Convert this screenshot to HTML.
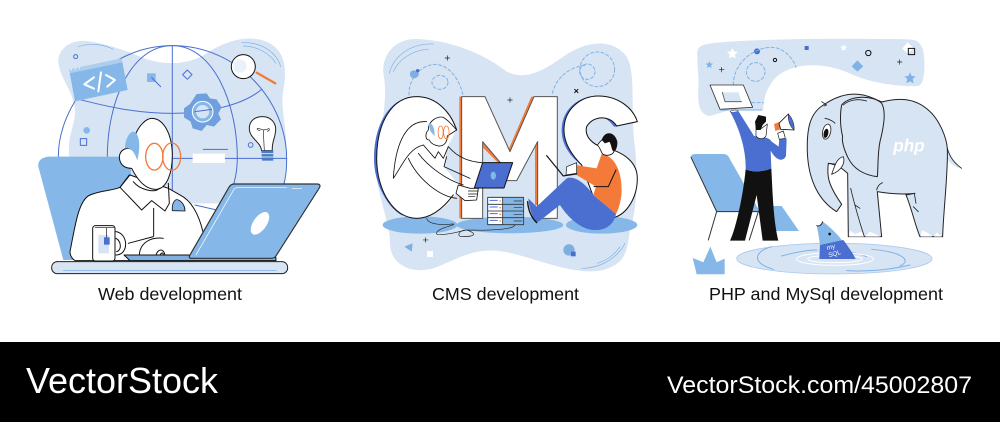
<!DOCTYPE html>
<html><head><meta charset="utf-8"><style>
html,body{margin:0;padding:0;background:#fff;width:1000px;height:422px;overflow:hidden}
svg{display:block}
text{font-family:"Liberation Sans",sans-serif}
</style></head><body>
<svg width="1000" height="422" viewBox="0 0 1000 422" xmlns="http://www.w3.org/2000/svg">
<rect width="1000" height="422" fill="#fff"/>
<!-- Panel 1 -->
<g transform="translate(30,30) scale(.3333)" fill="none" stroke-linejoin="round" stroke-linecap="round">
<path fill="#d7e4f3" d="M85 90C90 45 135 25 185 35C235 45 285 60 330 80C385 105 470 110 530 70C590 30 665 10 720 40C770 70 770 125 760 180C750 230 772 300 770 380L765 470L590 520L120 520L118 380C108 310 150 265 130 215C120 170 85 135 85 90Z"/>
<g stroke="#4a6fd0" stroke-width="3">
<path d="M85 380C85 220 230 47 427 47C630 47 770 220 770 385C770 420 768 440 760 470"/>
<path d="M232 380C232 220 300 47 427 47C550 47 622 220 622 385C622 430 610 480 585 530"/>
<path d="M427 47V480"/>
<path d="M430 385H770"/>
<path d="M135 205C230 230 320 250 427 250C530 250 640 225 695 178"/>
<path d="M495 525L560 540"/>
</g>
<path stroke="#7fb2e6" stroke-width="2" d="M145 50C180 38 220 42 250 58M635 38C690 35 740 65 752 110M640 48C680 48 720 70 738 100"/>
<circle cx="137" cy="80" r="6" stroke="#4a6fd0" stroke-width="3"/>
<!-- code window -->
<path fill="#85b8e8" d="M117 118L275 85L293 180L135 214Z"/>
<path fill="#d7e4f3" d="M117 118L275 85L277 97L119 130Z" opacity=".5"/>
<g stroke="#fff" stroke-width="6"><path d="M192 142L163 163L192 176M205 184L213 127M228 135L255 150L232 170"/></g>
<circle cx="124" cy="119" r="2" fill="#fff"/><circle cx="136" cy="117" r="2" fill="#fff"/><circle cx="148" cy="114" r="2" fill="#fff"/>
<!-- small icons -->
<rect x="351" y="130" width="26" height="26" fill="#85b8e8"/>
<path stroke="#4a6fd0" stroke-width="3" d="M365 143L392 170"/>
<path stroke="#4a6fd0" stroke-width="3" fill="#d7e4f3" d="M472 120L486 134L472 148L458 134Z"/>
<circle cx="170" cy="301" r="10" fill="#85b8e8"/>
<rect x="151" y="326" width="19" height="20" stroke="#4a6fd0" stroke-width="3"/>
<circle cx="662" cy="345" r="7" stroke="#4a6fd0" stroke-width="3"/>
<!-- gear -->
<path fill="#6f9fdf" d="M500 192L530 190L540 205L560 208L575 232L565 250L573 268L552 290L530 285L515 303L488 295L482 275L462 262L462 235L480 222Z"/>
<circle cx="518" cy="245" r="31" fill="#85b8e8" stroke="#fff" stroke-width="3"/>
<circle cx="518" cy="245" r="20" fill="#d7e4f3"/>
<path stroke="#4a6fd0" stroke-width="3" d="M495 245L545 238"/>
<!-- magnifier -->
<path stroke="#f47a3a" stroke-width="7" d="M680 128L736 160"/>
<circle cx="640" cy="110" r="36" fill="#fff" stroke="#111" stroke-width="3"/>
<circle cx="630" cy="108" r="20" fill="#eaf1f9"/>
<!-- bulb -->
<path fill="#fff" stroke="#222" stroke-width="3" d="M695 362C692 335 658 325 658 295C658 272 675 260 698 260C722 260 738 278 737 300C736 325 725 335 727 362Z"/>
<path stroke="#222" stroke-width="2" d="M703 362L700 302M690 302C678 300 680 292 688 296L700 300L712 298C718 292 722 300 712 304"/>
<path fill="#4a7bc8" d="M694 362H730V392H696Z"/>
<path stroke="#d7e4f3" stroke-width="3" d="M694 371H730M694 381H730"/>
<path stroke="#4a6fd0" stroke-width="3" d="M520 358H593"/>
<rect x="488" y="371" width="97" height="28" fill="#fff"/>
<!-- chair -->
<path fill="#85b8e8" d="M25 410C22 390 40 380 60 380H300L320 690H100Z"/>
<!-- person -->
<path fill="#fff" stroke="#111" stroke-width="3" d="M120 665C135 590 145 510 180 495C215 480 250 482 270 472L300 435L400 470L415 475L450 495C480 510 505 545 520 610L500 692H135C125 685 120 675 120 665Z"/>
<path fill="#fff" stroke="#111" stroke-width="3" d="M312 325C325 285 350 265 365 265C400 265 425 310 427 370C428 430 410 475 380 478C345 480 320 445 305 415C280 415 268 400 268 380C270 360 290 350 305 358C302 345 308 335 312 325Z"/>
<path fill="#85b8e8" d="M285 355C285 325 300 305 310 305C330 310 332 350 322 392C315 370 305 352 285 355Z"/>
<path stroke="#111" stroke-width="3" d="M310 455C330 480 375 490 388 475"/>
<path stroke="#111" stroke-width="3" d="M270 472L298 435M270 472L335 540L365 512L405 543L418 520L415 460"/>
<path fill="#85b8e8" stroke="#111" stroke-width="2.5" d="M427 542C425 520 435 505 445 510C458 515 465 530 465 543Z"/>
<path stroke="#111" stroke-width="3" d="M371 535V618M295 640L370 620"/>
<g stroke="#f47a3a" stroke-width="4"><ellipse cx="373" cy="380" rx="26" ry="40"/><ellipse cx="425" cy="380" rx="27" ry="41"/></g>
<!-- mug -->
<path stroke="#111" stroke-width="3" d="M258 605C295 610 298 675 258 675M258 625C275 635 275 660 260 665"/>
<rect x="188" y="587" width="67" height="106" rx="8" fill="#fff" stroke="#111" stroke-width="3"/>
<rect x="205" y="615" width="32" height="55" fill="#d7e4f3"/>
<rect x="222" y="622" width="17" height="22" fill="#4a6fd0"/>
<path stroke="#111" stroke-width="2" d="M195 593H252M230 593V622"/>
<!-- hand -->
<path fill="#fff" stroke="#111" stroke-width="3" d="M328 675C330 640 360 620 400 625"/>
<path stroke="#111" stroke-width="3" d="M378 675C385 655 400 655 405 675M390 675C395 666 400 668 400 675"/>
<!-- laptop -->
<path fill="#7faee0" stroke="#111" stroke-width="3" d="M282 675H480L738 683V692H300Z"/>
<path fill="#85b8e8" stroke="#333" stroke-width="3.5" d="M598 470C602 464 606 462 614 462H862C870 462 872 468 868 474L738 678C734 684 730 685 722 685H484C478 685 476 680 480 675Z"/>
<path stroke="#fff" stroke-width="2" d="M498 675L612 478C614 474 618 473 624 473H770M786 475H815"/>
<ellipse cx="690" cy="580" rx="20" ry="39" fill="#fff" transform="rotate(35 690 580)"/>
<rect x="65" y="695" width="708" height="36" rx="17" fill="#d7e4f3" stroke="#222" stroke-width="3"/>
<path stroke="#7fb2e6" stroke-width="2" d="M100 722H740"/>
</g>

<!-- Panel 2 -->
<g transform="translate(360,30) scale(.3333)" fill="none" stroke-linejoin="round" stroke-linecap="round">
<path fill="#d7e4f3" d="M70 130C65 70 110 25 170 27C270 30 370 70 440 125C490 150 540 130 610 80C680 30 760 25 800 80C830 130 810 260 825 350C835 450 830 540 810 600C800 680 790 700 730 720C640 740 520 680 430 665C340 650 290 690 220 715C150 735 90 700 90 640C92 590 60 520 50 440C45 340 90 230 70 130Z"/>
<path stroke="#7fb2e6" stroke-width="2" d="M88 130C100 80 150 40 220 42M100 125C115 90 155 60 205 58M795 640C775 680 725 715 665 715M780 650C760 680 735 692 712 700"/>
<g stroke="#7fb2e6" stroke-width="3" stroke-dasharray="9 7"><path d="M147 195C145 150 180 105 225 103C270 105 300 150 310 200"/><ellipse cx="240" cy="157" rx="24" ry="21"/><path d="M577 190C590 140 630 110 680 105"/><circle cx="712" cy="118" r="52"/><circle cx="682" cy="125" r="23"/></g>
<path fill="#7faee0" d="M150 132C150 120 165 118 175 125C180 135 172 145 162 145C155 145 150 140 150 132Z"/>
<circle cx="173" cy="122" r="5" fill="#4a6fd0"/>
<path stroke="#222" stroke-width="2" d="M262 77V91M255 84H269M450 203V217M443 210H457M197 623V637M190 630H204"/>
<path stroke="#111" stroke-width="3" d="M644 178L654 188M654 178L644 188"/>
<!-- floor -->
<ellipse cx="180" cy="585" rx="112" ry="26" fill="#85b8e8"/>
<ellipse cx="450" cy="585" rx="160" ry="25" fill="#85b8e8"/>
<ellipse cx="725" cy="585" rx="107" ry="26" fill="#85b8e8"/>
<path fill="#7faee0" d="M133 650L158 640L155 665Z"/>
<rect x="201" y="663" width="18" height="18" fill="#fff"/>
<circle cx="627" cy="660" r="17" fill="#7faee0"/>
<rect x="633" y="665" width="14" height="14" fill="#4a6fd0"/>
<!-- M -->
<path fill="#f47a3a" d="M298 200H306V565H298Z"/>
<path fill="#f47a3a" d="M366 335L422 395L416 400L366 350Z"/>
<path fill="#f47a3a" d="M514 200H524L452 372L445 360Z"/>
<path fill="#f47a3a" d="M525 340H534V525H525Z"/>
<path fill="#fff" stroke="#555" stroke-width="3" d="M305 200H375L450 365L522 200H592V565H533V335L470 452H440V420L368 335V565H305Z"/>
<!-- C -->
<path fill="#4a6fd0" d="M150 202C90 210 42 280 42 385C42 470 90 540 130 558C85 520 50 460 50 385C50 290 95 215 150 202Z"/>
<path fill="#fff" d="M290 300C270 240 225 200 170 200C95 200 50 280 50 385C50 480 100 565 170 565C215 565 255 535 285 495L300 470L252 410L262 350Z"/>
<path stroke="#111" stroke-width="3" d="M290 300C270 240 225 200 170 200C95 200 50 280 50 385C50 480 100 565 170 565C215 565 250 535 280 495"/>
<path stroke="#111" stroke-width="2.5" d="M100 445C105 360 130 270 200 275M100 445C125 410 145 355 190 345M145 385C175 450 240 500 290 505M175 370C205 410 260 450 310 465"/>
<!-- woman -->
<path fill="#fff" stroke="#111" stroke-width="2.5" d="M205 300C205 270 235 258 250 262C268 272 280 290 290 300L262 318C262 338 250 350 235 348C220 345 212 340 208 330C195 330 195 310 205 300Z"/>
<path fill="#85b8e8" d="M205 282C215 276 224 290 224 318L212 305Z"/>
<path stroke="#f47a3a" stroke-width="2.5" d="M242 288c-10 0-10 38 0 38s10-38 0-38ZM259 288c-11 0-11 38 0 38s11-38 0-38Z"/>
<path stroke="#111" stroke-width="2.5" d="M190 345L225 385L235 365L250 385L265 350C295 385 330 395 365 398M260 380L252 410L330 445"/>
<path fill="#fff" stroke="#111" stroke-width="2.5" d="M295 465L330 475L355 475L350 510L315 512L288 490Z"/>
<path stroke="#111" stroke-width="2" d="M325 483H355M325 492H352M325 500H345"/>
<path fill="#4a6fd0" stroke="#111" stroke-width="3" d="M368 398H458L432 474H343Z"/>
<ellipse cx="400" cy="437" rx="8" ry="12" fill="#85b8e8"/>
<!-- cable -->
<path stroke="#222" stroke-width="2" d="M200 565C205 585 250 585 280 582C290 585 225 595 230 612C240 618 280 610 320 600C350 610 350 620 305 620C290 620 295 600 320 600C380 602 460 600 465 585"/>
<!-- server -->
<rect x="383" y="502" width="108" height="82" fill="#85b8e8" stroke="#333" stroke-width="2.5"/>
<rect x="385" y="504" width="43" height="18" fill="#fff"/><rect x="385" y="524" width="43" height="18" fill="#fff"/><rect x="385" y="544" width="43" height="18" fill="#fff"/><rect x="385" y="564" width="43" height="18" fill="#fff"/>
<path stroke="#333" stroke-width="2.5" d="M383 523H491M383 543H491M383 563H491M428 502V584"/>
<path stroke="#4a6fd0" stroke-width="3" d="M390 511H412M390 531H412M390 551H412M390 571H412"/>
<path stroke="#f47a3a" stroke-width="4" d="M420 513h1M420 533h1M420 553h1M420 573h1"/>
<path stroke="#333" stroke-width="2" d="M462 513H486M462 533H486M462 553H486M462 573H486"/>
<!-- S -->
<path fill="#4a6fd0" d="M605 300C605 235 660 200 700 200C655 215 615 250 613 300C613 335 640 375 665 405C625 375 605 340 605 300Z"/>
<path fill="#4a6fd0" d="M735 265C750 265 765 275 772 290L762 290C755 280 745 270 735 265Z"/>
<path fill="#fff" stroke="#111" stroke-width="3" d="M612 300C612 235 665 198 715 198C775 198 820 235 832 275L770 288C750 255 700 255 680 290C672 320 700 345 730 352C790 365 832 395 832 445C832 505 800 550 765 562L700 500L665 405C635 375 612 340 612 300Z"/>
<!-- man -->
<path fill="#f47a3a" d="M725 372C755 375 785 410 785 480C785 510 775 540 768 552L700 495L708 470L650 435L645 405L710 415Z"/>
<path fill="#4a6fd0" d="M505 505L530 530L620 445C645 435 680 465 700 495L768 552C760 590 730 602 700 600C665 598 625 565 600 525L540 572L530 578C518 565 508 540 505 505Z"/>
<path stroke="#111" stroke-width="4" d="M503 515C505 545 517 565 530 578"/>
<path fill="#fff" stroke="#111" stroke-width="2.5" d="M712 345L725 330L750 335L762 365C755 378 735 378 728 372C722 365 722 355 712 345Z"/>
<path fill="#111" d="M725 330C735 300 765 305 772 335C773 350 768 362 762 365C752 360 755 340 750 335L735 340Z"/>
<path stroke="#111" stroke-width="3.5" d="M560 377L610 438L650 432"/>
<path fill="#fff" stroke="#111" stroke-width="2" d="M620 410L650 398L650 430L618 435Z"/>
<path stroke="#111" stroke-width="3" d="M768 420L745 470L702 470"/>
</g>

<!-- Panel 3 -->
<g transform="translate(680,30) scale(.3333)" fill="none" stroke-linejoin="round" stroke-linecap="round">
<path fill="#d7e4f3" d="M52 65C55 40 90 40 150 35C300 25 500 25 690 28C720 30 732 50 733 90C735 130 730 165 715 168C680 170 590 165 520 135C450 100 350 90 290 140C265 165 250 200 250 240H150L90 258C60 255 52 225 55 180C58 140 50 100 52 65Z"/>
<g fill="#fff"><path d="M157 54l5 10 11 2-8 8 2 11-10-5-10 5 2-11-8-8 11-2Z"/><path d="M491 43l3 6 7 1-5 5 1 7-6-3-6 3 1-7-5-5 7-1Z"/><path d="M683 37l18 18-18 16-16-16Z"/></g>
<g fill="#7fb2e6"><path d="M88 93l3 7 8 1-6 5 2 8-7-4-7 4 2-8-6-5 8-1Z"/><path d="M690 127l5 11 12 1-9 8 3 13-11-6-11 6 3-13-9-8 12-1Z"/><path d="M532 91l18 18-18 16-17-16Z"/></g>
<circle cx="231" cy="64" r="9" fill="#4a6fd0"/><rect x="374" y="48" width="12" height="12" fill="#4a6fd0"/>
<circle cx="285" cy="90" r="5" stroke="#111" stroke-width="3"/><circle cx="565" cy="69" r="8" stroke="#111" stroke-width="3"/>
<rect x="685" y="55" width="19" height="19" stroke="#111" stroke-width="3"/>
<path stroke="#222" stroke-width="2" d="M125 112V126M118 119H132M659 89V103M652 96H666"/>
<g stroke="#7fb2e6" stroke-width="3" stroke-dasharray="9 7"><path d="M160 165C160 100 220 52 275 52C310 52 340 85 348 112"/><circle cx="227" cy="126" r="28"/><path d="M215 218H250"/></g>
<!-- tablet -->
<path fill="#fff" stroke="#333" stroke-width="2.5" d="M90 165H190L218 232L120 238Z"/>
<path fill="#d7e4f3" d="M127 187H175L185 215H135Z"/>
<path stroke="#555" stroke-width="2.5" d="M127 187L135 215H185"/>
<path stroke="#7fb2e6" stroke-width="3" d="M120 240H245"/>
<!-- chair -->
<path fill="#85b8e8" d="M32 382C32 374 40 372 50 372H130C140 372 146 378 150 388L240 545H110Z"/>
<path stroke="#333" stroke-width="3" d="M33 382L110 545H240M110 545L85 630M235 545L208 630"/>
<path fill="#85b8e8" d="M275 528H305L357 603H270Z"/>
<!-- man -->
<path fill="#111" d="M197 418C220 428 250 425 274 415C278 490 280 570 295 632H248L230 495L195 632H150C170 590 190 490 197 418Z"/>
<path fill="#fff" stroke="#111" stroke-width="1.5" d="M150 245C155 240 170 238 175 243L168 250Z"/>
<path fill="#4a6fd0" d="M152 248L175 243L222 318C250 322 268 322 275 335L296 350L298 326H320L318 378C310 395 290 395 272 362L274 415C250 425 220 428 197 418C198 380 190 320 152 248Z"/>
<path fill="#fff" stroke="#111" stroke-width="2" d="M228 290L245 295L262 282L258 318C250 330 235 328 228 318Z"/>
<path fill="#111" d="M225 275L235 255L258 260L258 275L248 285L242 300L228 300Z"/>
<path fill="#f47a3a" d="M282 282L298 276L301 298L286 303Z"/>
<path fill="#fff" stroke="#111" stroke-width="2.5" d="M297 280L325 252L342 300L302 298Z"/>
<path fill="#4a6fd0" stroke="#111" stroke-width="1.5" d="M325 252C335 260 345 285 342 300C330 290 323 270 325 252Z"/>
<path fill="#fff" stroke="#111" stroke-width="2" d="M293 310L310 303L316 325L298 328Z"/>
<!-- elephant -->
<path fill="#d7e4f3" d="M802 350C812 378 828 400 845 415C825 412 810 400 800 385Z"/>
<path stroke="#222" stroke-width="2.5" d="M802 355C810 385 825 400 845 415"/>
<path fill="#d7e4f3" stroke="#222" stroke-width="3" d="M470 545C420 515 385 455 382 365C380 295 390 250 430 225C460 205 500 185 550 195C585 203 605 220 610 215C650 205 700 200 745 240C780 270 800 325 802 355C805 425 790 545 788 620H720C705 585 695 535 678 495L705 490C660 495 620 490 592 485L605 620H505L503 430C490 420 480 405 445 400C440 440 445 465 485 523Z"/>
<path stroke="#222" stroke-width="2.5" d="M512 475C525 530 540 580 553 620"/>
<path fill="#d7e4f3" stroke="#222" stroke-width="3" d="M485 225C510 195 580 195 605 220C620 245 610 295 600 335C592 375 595 415 592 440C550 435 520 415 505 385C490 355 485 330 488 320C480 290 480 250 485 225Z"/>
<path stroke="#222" stroke-width="2.5" d="M435 265C450 268 462 275 465 280M425 215L440 225L432 228M490 225C505 210 535 205 560 213M590 480C592 470 598 462 608 458M703 490L708 520M525 525L540 535M700 530L715 545"/>
<ellipse cx="440" cy="305" rx="12" ry="23" fill="#fff" stroke="#222" stroke-width="2.5" transform="rotate(12 440 305)"/>
<ellipse cx="438" cy="310" rx="7" ry="14" fill="#111" transform="rotate(12 438 310)"/>
<path fill="#fff" stroke="#222" stroke-width="2.5" d="M455 433C465 405 470 385 490 380C495 395 490 420 455 433Z"/>
<path stroke="#222" stroke-width="2.5" d="M445 400L465 402"/>
<path fill="#fff" d="M507 620L510 602L525 612L545 605L552 620ZM555 620L570 605L602 620ZM722 620L726 600L745 610L757 620ZM762 620L770 607L786 620Z"/>
<text x="640" y="365" font-size="52" font-weight="700" fill="#fff" stroke="none" font-style="italic" textLength="94" lengthAdjust="spacingAndGlyphs">php</text>
<!-- pond -->
<ellipse cx="463" cy="686" rx="293" ry="46" fill="#d7e4f3" stroke="#a9cbee" stroke-width="2.5"/>
<path stroke="#7fb2e6" stroke-width="3" d="M275 650C220 665 215 700 280 718M575 658C660 665 700 690 660 708M500 722C560 725 620 722 690 705M305 678C350 665 390 660 410 660M500 665C530 670 550 675 560 680"/>
<ellipse cx="465" cy="687" rx="115" ry="19" stroke="#fff" stroke-width="3"/>
<ellipse cx="465" cy="687" rx="82" ry="11" stroke="#fff" stroke-width="3"/>
<path fill="#85b8e8" d="M410 587C425 590 425 580 428 575C450 590 480 620 490 637L420 650C418 625 414 605 410 587Z"/>
<path fill="#4a6fd0" d="M420 645L490 630C505 650 520 672 527 687H418Z"/>
<path stroke="#111" stroke-width="2.5" d="M410 587C418 590 425 585 428 575"/>
<circle cx="449" cy="612" r="4" fill="#111"/>
<text x="442" y="660" font-size="19" fill="#fff" stroke="none" transform="rotate(-15 442 660)">my</text>
<text x="447" y="682" font-size="19" fill="#fff" stroke="none" transform="rotate(-15 447 682)">SQL</text>
<path fill="#85b8e8" d="M38 684L70 697L91 650L110 697L134 686L134 733H50Z"/>
</g>

<!-- Labels -->
<text x="98" y="300" font-size="17.5" fill="#111" textLength="144" lengthAdjust="spacingAndGlyphs">Web development</text>
<text x="432" y="300" font-size="17.5" fill="#111" textLength="147" lengthAdjust="spacingAndGlyphs">CMS development</text>
<text x="709" y="300" font-size="17.5" fill="#111" textLength="234" lengthAdjust="spacingAndGlyphs">PHP and MySql development</text>
<!-- Footer -->
<rect x="0" y="342" width="1000" height="80" fill="#000"/>
<text x="26" y="393" font-size="36" fill="#fff" textLength="192" lengthAdjust="spacingAndGlyphs">VectorStock</text>
<text x="667" y="393" font-size="24" fill="#fff" textLength="305" lengthAdjust="spacingAndGlyphs">VectorStock.com/45002807</text>
</svg>
</body></html>
